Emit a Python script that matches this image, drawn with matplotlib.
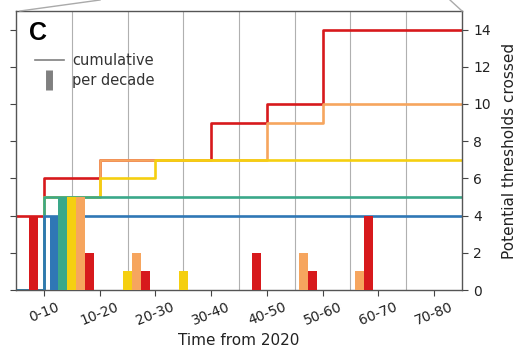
import matplotlib.pyplot as plt
import numpy as np
from matplotlib.lines import Line2D

# thresholds crossed in each decade (first entry = already crossed before 2020)
decades = ["0-10", "10-20", "20-30", "30-40", "40-50", "50-60", "60-70", "70-80"]
blue = [0, 4, 0, 0, 0, 0, 0, 0, 0]
teal = [0, 5, 0, 0, 0, 0, 0, 0, 0]
yellow = [0, 5, 1, 1, 0, 0, 0, 0, 0]
orange = [0, 5, 2, 0, 0, 2, 1, 0, 0]
red = [4, 2, 1, 0, 2, 1, 4, 0, 0]

series = [blue, teal, yellow, orange, red]
colors = ["#2f77b5", "#3aa88a", "#f5cf10", "#f6a55e", "#d7191c"]

fig = plt.figure(figsize=(5.19, 3.52), dpi=100)
ax = fig.add_axes([0.031, 0.176, 0.859, 0.793])

# vertical grid between the decade ticks
for g in np.arange(0.5, 7, 1):
    ax.axvline(g, color="#b0b0b0", lw=0.8, zorder=0)

# cumulative step lines (drawn red first so blue ends up on top)
xs = np.arange(-1, 8)
order = [4, 3, 2, 1, 0]
for k in order:
    cum = np.cumsum(series[k])
    ax.step(np.append(xs, 8), np.append(cum, cum[-1]), where="post",
            color=colors[k], lw=1.9, zorder=2 + (4 - k) * 0.1)

# per decade bars
w = 0.16
centers = np.arange(9) - 0.5
for k in range(5):
    ax.bar(centers + (k - 2) * w, series[k], width=w, color=colors[k],
           zorder=3, linewidth=0)

ax.set_xlim(-0.5, 7.5)
ax.set_ylim(0, 15)
ax.set_xticks(np.arange(8))
ax.set_xticklabels(decades, rotation=22, fontsize=10)
ax.set_yticks(np.arange(0, 15, 2))
ax.tick_params(left=True, right=True, labelleft=False, labelright=True,
               labelsize=10, color="#444444", labelcolor="#222222", length=4)
ax.tick_params(axis="x", pad=3)
ax.tick_params(axis="y", pad=4)
ax.yaxis.set_label_position("right")
ax.set_ylabel("Potential thresholds crossed", fontsize=11, color="#222222", labelpad=8)
ax.set_xlabel("Time from 2020", fontsize=11, color="#222222", labelpad=4)
for s in ax.spines.values():
    s.set_color("#555555")
    s.set_linewidth(1.0)

handles = [Line2D([], [], color="grey", lw=1.2),
           Line2D([], [], color="grey", marker="|", markersize=15,
                  markeredgewidth=5, linestyle="none")]
ax.legend(handles, ["cumulative", "per decade"], loc="upper left",
          bbox_to_anchor=(0.012, 0.895), frameon=False, fontsize=10.5,
          handlelength=2.0, handletextpad=0.6, labelspacing=0.3,
          labelcolor="#333333")

ax.text(0.028, 0.965, "C", transform=ax.transAxes, fontsize=18,
        fontweight="bold", va="top", ha="left",
        family=["Liberation Sans Narrow", "Liberation Sans", "DejaVu Sans"])

# connector lines up to the panel above
fig.add_artist(Line2D([20 / 519, 100 / 519], [1 - 11 / 352, 1.0],
                      color="#aaaaaa", lw=1.0))
fig.add_artist(Line2D([462 / 519, 450 / 519], [1 - 11 / 352, 1.0],
                      color="#aaaaaa", lw=1.0))

fig.savefig("out.png", dpi=100)
